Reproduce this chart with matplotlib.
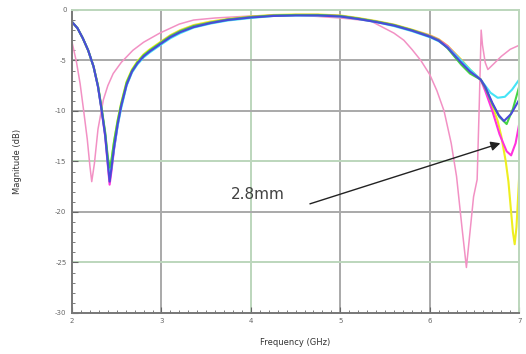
import matplotlib
matplotlib.use("Agg")
import matplotlib.pyplot as plt
from matplotlib.ticker import MultipleLocator

# frequencies (GHz) and magnitudes (dB)
freq_main = [2.00, 2.06, 2.12, 2.18, 2.24, 2.29, 2.33, 2.37, 2.40, 2.42, 2.44, 2.47,
             2.51, 2.55, 2.61, 2.67, 2.73, 2.80, 2.87, 3.00, 3.10, 3.21, 3.36, 3.55,
             3.74, 4.00, 4.25, 4.50, 4.75, 5.00, 5.20, 5.40, 5.60, 5.80, 6.00, 6.10,
             6.20, 6.35, 6.45, 6.57]
db_blue_main = [-1.2, -1.8, -2.8, -4.0, -5.6, -7.6, -9.9, -12.4, -15.2, -17.0, -15.7, -13.6,
                -11.3, -9.5, -7.4, -6.1, -5.3, -4.6, -4.1, -3.3, -2.7, -2.2, -1.7, -1.3,
                -1.0, -0.75, -0.6, -0.55, -0.55, -0.65, -0.9, -1.2, -1.55, -2.05, -2.65, -3.05,
                -3.75, -5.2, -6.1, -6.9]
db_green_main = [-1.2, -1.8, -2.8, -4.0, -5.6, -7.5, -9.7, -12.1, -14.6, -15.6, -14.9, -13.0,
                 -11.0, -9.3, -7.2, -6.0, -5.2, -4.5, -4.0, -3.2, -2.6, -2.1, -1.6, -1.25,
                 -0.95, -0.7, -0.55, -0.5, -0.5, -0.6, -0.85, -1.15, -1.5, -2.0, -2.6, -3.0,
                 -3.8, -5.4, -6.3, -6.9]
db_cyan_main = [-1.2, -1.8, -2.8, -4.0, -5.6, -7.6, -9.8, -12.3, -15.0, -16.5, -15.6, -13.7,
                -11.5, -9.7, -7.5, -6.2, -5.4, -4.7, -4.2, -3.4, -2.8, -2.3, -1.75, -1.35,
                -1.05, -0.8, -0.6, -0.55, -0.55, -0.65, -0.9, -1.2, -1.6, -2.1, -2.7, -3.1,
                -3.7, -5.0, -5.9, -6.9]
db_magenta_main = [-1.2, -1.8, -2.8, -4.0, -5.6, -7.6, -9.9, -12.5, -15.4, -17.3, -16.0, -13.8,
                   -11.4, -9.5, -7.4, -6.1, -5.3, -4.6, -4.1, -3.2, -2.6, -2.1, -1.6, -1.25,
                   -0.95, -0.7, -0.55, -0.5, -0.5, -0.6, -0.85, -1.15, -1.5, -2.0, -2.55, -2.95,
                   -3.6, -5.0, -6.0, -6.9]
db_yellow_main = [-1.2, -1.8, -2.8, -4.0, -5.6, -7.5, -9.8, -12.2, -14.8, -16.0, -15.0, -13.0,
                  -10.9, -9.2, -7.1, -5.9, -5.1, -4.4, -3.9, -3.1, -2.5, -2.0, -1.5, -1.15,
                  -0.9, -0.65, -0.5, -0.45, -0.45, -0.55, -0.8, -1.1, -1.45, -1.95, -2.5, -2.9,
                  -3.55, -4.9, -5.9, -6.9]

# high band, where the curves split apart
freq_cyan_tail = [6.62, 6.68, 6.76, 6.84, 6.92, 7.00]
db_cyan_tail = [-7.5, -8.2, -8.7, -8.6, -7.9, -6.9]
freq_green_tail = [6.62, 6.70, 6.78, 6.86, 6.93, 7.00]
db_green_tail = [-7.7, -9.3, -10.6, -11.3, -9.8, -7.6]
freq_blue_tail = [6.62, 6.70, 6.77, 6.83, 6.91, 7.00]
db_blue_tail = [-7.6, -9.2, -10.4, -11.0, -10.3, -8.9]
freq_magenta_tail = [6.62, 6.70, 6.78, 6.86, 6.91, 6.96, 7.00]
db_magenta_tail = [-8.0, -10.0, -12.3, -14.0, -14.4, -13.2, -11.3]
freq_yellow_tail = [6.62, 6.70, 6.76, 6.80, 6.85, 6.88, 6.93, 6.95, 6.97, 7.00]
db_yellow_tail = [-7.6, -9.5, -11.0, -12.5, -15.0, -17.0, -22.0, -23.2, -21.5, -16.5]

# pink curve (different resonances)
freq_pink = [2.00, 2.05, 2.09, 2.13, 2.17, 2.20, 2.22, 2.25, 2.29, 2.35, 2.40, 2.46,
             2.55, 2.68, 2.80, 2.98, 3.20, 3.36, 3.60, 4.00, 4.50, 5.00, 5.34, 5.60,
             5.71, 5.80, 5.90, 6.00, 6.08, 6.16, 6.24, 6.30, 6.36, 6.41, 6.45, 6.49,
             6.53, 6.555, 6.575, 6.59, 6.62, 6.65, 6.72, 6.80, 6.90, 7.00]
db_pink = [-3.2, -5.2, -7.3, -10.0, -12.8, -15.5, -17.0, -15.2, -11.8, -8.9, -7.5, -6.3,
           -5.2, -4.0, -3.2, -2.3, -1.4, -1.0, -0.8, -0.6, -0.5, -0.8, -1.1, -2.3,
           -3.0, -3.9, -5.0, -6.4, -8.0, -10.0, -13.2, -16.5, -21.5, -25.5, -22.0, -18.5,
           -16.8, -9.0, -2.0, -3.5, -5.2, -5.9, -5.3, -4.6, -3.9, -3.5]

x_ticks = [2, 3, 4, 5, 6, 7]
y_ticks = [0, -5, -10, -15, -20, -25, -30]
y_tick_labels = ["0", "-5", "-10", "-15", "-20", "-25", "-30"]

fig = plt.figure(figsize=(5.26, 3.54), dpi=100)
ax = fig.add_axes([0.137, 0.116, 0.850, 0.856])

grey = "#a9a9a9"
pale_green = "#bcd6bc"
v_grid_colors = {3: grey, 4: pale_green, 5: grey, 6: grey}
h_grid_colors = {-5: grey, -10: grey, -15: pale_green, -20: grey, -25: pale_green}
for xv, c in v_grid_colors.items():
    ax.axvline(xv, color=c, lw=1.4, zorder=0)
for yv, c in h_grid_colors.items():
    ax.axhline(yv, color=c, lw=1.4, zorder=0)

ax.plot(freq_pink, db_pink, color="#f291c4", lw=1.1)
ax.plot(freq_main + freq_yellow_tail, db_yellow_main + db_yellow_tail, color="#eeee20", lw=1.5)
ax.plot(freq_main + freq_magenta_tail, db_magenta_main + db_magenta_tail, color="#ff33dd", lw=1.5)
ax.plot(freq_main + freq_cyan_tail, db_cyan_main + db_cyan_tail, color="#44e4f6", lw=1.5)
ax.plot(freq_main + freq_green_tail, db_green_main + db_green_tail, color="#44d444", lw=1.5)
ax.plot(freq_main + freq_blue_tail, db_blue_main + db_blue_tail, color="#4a4ad8", lw=1.5)

ax.annotate("", xy=(6.79, -13.2), xytext=(4.66, -19.2),
            arrowprops=dict(arrowstyle="-|>", color="#222222", lw=1.0,
                            mutation_scale=14, shrinkA=0, shrinkB=0))
ax.text(4.08, -18.3, "2.8mm", ha="center", va="center", fontsize=11, color="#404040")

ax.set_xlim(2, 7)
ax.set_ylim(-30, 0)
ax.set_xticks(x_ticks)
ax.set_xticklabels([str(v) for v in x_ticks])
ax.set_yticks(y_ticks)
ax.set_yticklabels(y_tick_labels)
ax.xaxis.set_minor_locator(MultipleLocator(0.1))
ax.yaxis.set_minor_locator(MultipleLocator(1))
ax.tick_params(which="both", direction="in", colors="#666666", labelsize=5, pad=4)
ax.tick_params(which="major", length=4)
ax.tick_params(which="minor", length=2.5)

ax.spines["top"].set_color(pale_green)
ax.spines["right"].set_color(pale_green)
ax.spines["left"].set_color("#777777")
ax.spines["bottom"].set_color("#777777")
for s in ax.spines.values():
    s.set_linewidth(1.4)

ax.set_xlabel("Frequency (GHz)", fontsize=6, color="#333333", labelpad=10)
ax.set_ylabel("Magnitude (dB)", fontsize=6, color="#333333", labelpad=24)

fig.savefig("out.png", dpi=100)
